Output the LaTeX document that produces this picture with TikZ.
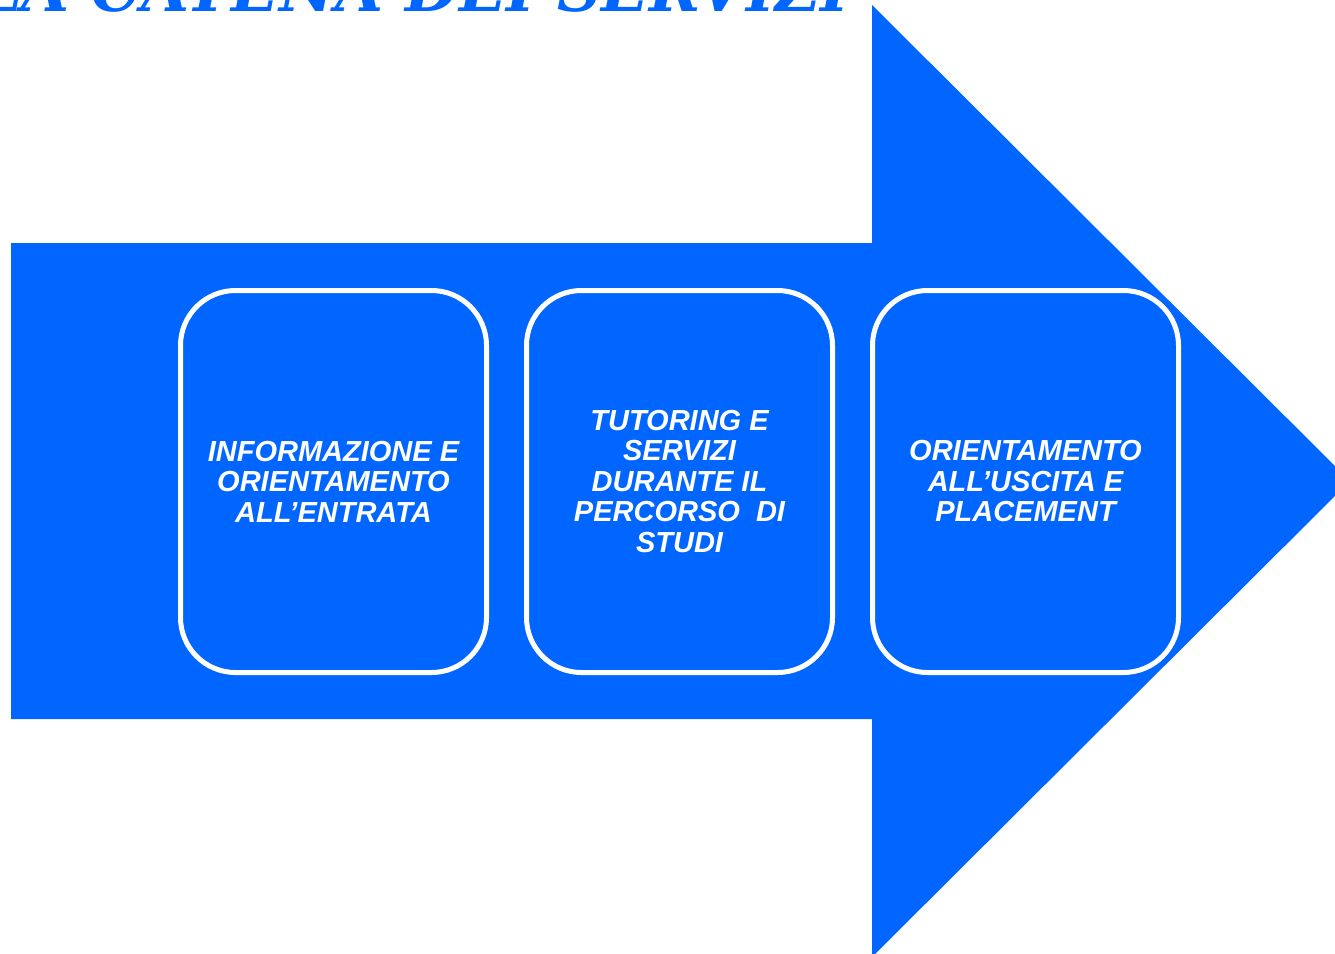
\documentclass[tikz,border=0pt]{standalone}
\usepackage{fontspec}
\setmainfont{Liberation Sans}
\newfontfamily\titlefont{DejaVu Serif}
\definecolor{arrowblue}{RGB}{0,102,255}
\tikzset{
  stagebox/.style={draw=white, line width=5pt, fill=arrowblue, rounded corners=55pt,
    minimum width=306pt, minimum height=382pt, inner sep=0pt,
    text=white, align=center,
    font=\fontsize{29pt}{30.5pt}\selectfont\bfseries\itshape},
  titletext/.style={text=arrowblue, inner sep=0pt,
    font=\titlefont\fontsize{62pt}{62pt}\selectfont\bfseries\itshape}
}
\begin{document}
\begin{tikzpicture}[x=1pt,y=-1pt]
\path[use as bounding box, clip] (0,0) rectangle (1335,953);
\fill[white] (0,0) rectangle (1335,953);
% big arrow
\fill[arrowblue] (11,243) -- (872,243) -- (872,5) -- (1350,481) -- (872,957)
  -- (872,719) -- (11,719) -- cycle;
% title (only its lower part is visible)
\node[titletext, anchor=base east] (title) at (850,12) {LA CATENA DEI SERVIZI};
% stages
\node[stagebox] (s1) at (333.5,481.5) {INFORMAZIONE E\\ORIENTAMENTO\\ALL’ENTRATA};
\node[stagebox] (s2) at (679.5,481.5) {TUTORING E\\SERVIZI\\DURANTE IL\\PERCORSO~~DI\\STUDI};
\node[stagebox] (s3) at (1025.5,481.5) {ORIENTAMENTO\\ALL’USCITA E\\PLACEMENT};
\end{tikzpicture}
\end{document}
